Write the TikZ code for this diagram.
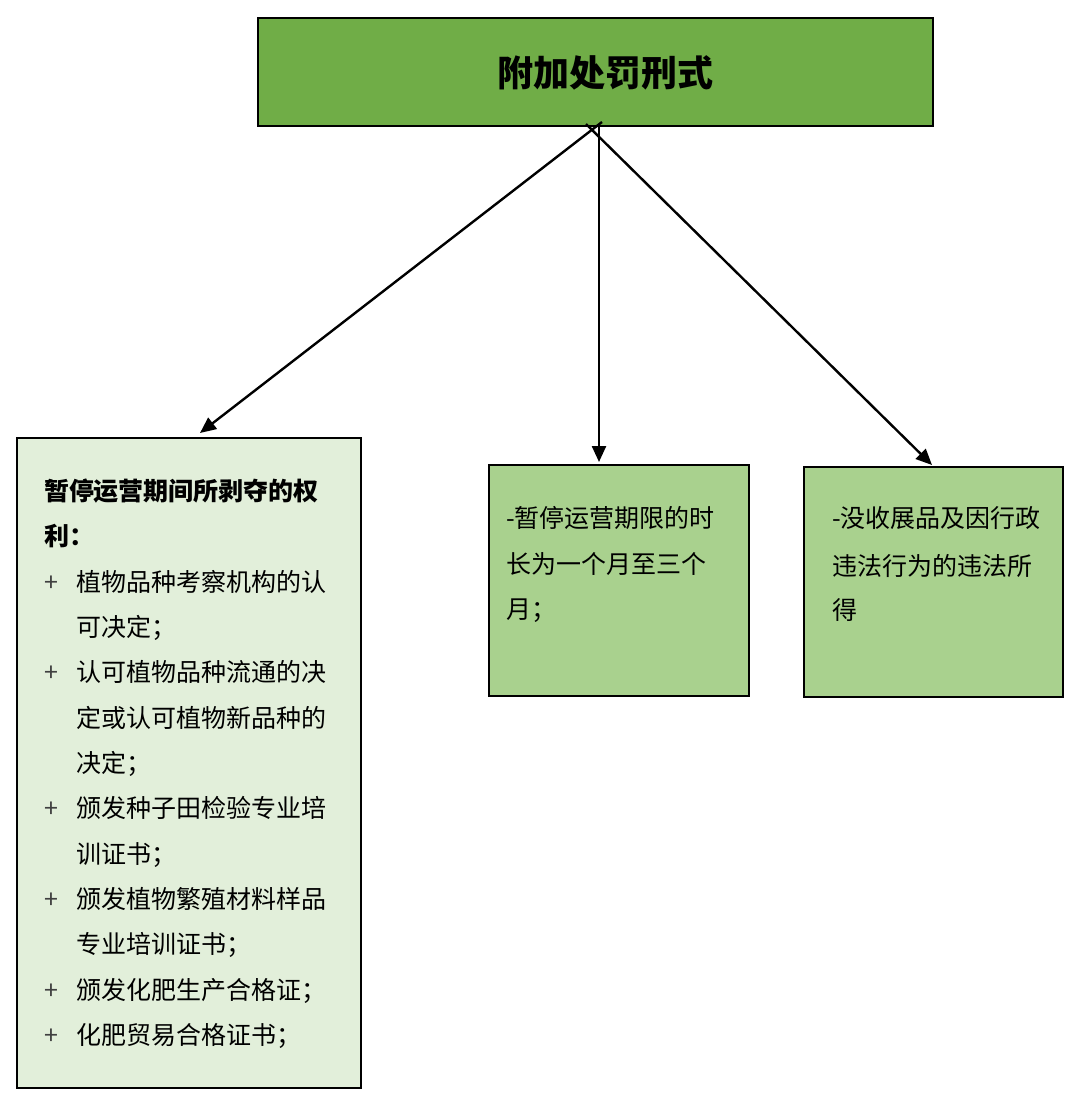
\documentclass[tikz,border=0pt]{standalone}
\usepackage{fontspec}
\setmainfont{Noto Sans CJK SC}
\usetikzlibrary{arrows.meta}
\definecolor{topgreen}{HTML}{70AD47}
\definecolor{midgreen}{HTML}{A9D18E}
\definecolor{palegreen}{HTML}{E2EFDA}
\begin{document}
\begin{tikzpicture}[x=0.5pt,y=-0.5pt,
  box/.style={draw=black,line width=1.1pt,inner sep=0pt,outer sep=0pt},
  arr/.style={line width=1.2pt,-{Triangle[length=8pt,width=7pt]}},
  txt/.style={anchor=base west,inner sep=0pt,outer sep=0pt,text=black,font=\fontsize{12.5}{15}\selectfont},
  btxt/.style={txt,font=\fontsize{12.5}{15}\selectfont\bfseries},
  plus/.style={txt,text=black!75}]
\useasboundingbox (0,0) rectangle (1080,1104);
\fill[white] (0,0) rectangle (1080,1104);

% boxes
\node[box,fill=topgreen,minimum width=337.5pt,minimum height=54pt] (top) at (595.5,72) {};
\node[anchor=base,inner sep=0pt,font=\fontsize{18}{20}\selectfont\bfseries] (title) at (605,86.5) {附加处罚刑式};
\node[box,fill=palegreen,minimum width=172pt,minimum height=325pt] (left) at (189,763) {};
\node[box,fill=midgreen,minimum width=130pt,minimum height=115.5pt] (mid) at (619,580.5) {};
\node[box,fill=midgreen,minimum width=129.5pt,minimum height=115pt] (right) at (933.5,582) {};

% connectors
\coordinate (s1) at (602,122);
\coordinate (e1) at (200,433);
\coordinate (s2) at (599,124);
\coordinate (e2) at (599,462);
\coordinate (s3) at (586,124);
\coordinate (e3) at (932,465);
\draw[arr] (s1) -- (e1);
\draw[arr] (s2) -- (e2);
\draw[arr] (s3) -- (e3);

% left box text
\node[btxt] (l1) at (44,500.5) {暂停运营期间所剥夺的权};
\node[btxt] (l2) at (44,545.8) {利：};
\node[plus] (p1) at (44,591.2) {+};
\node[txt] (l3) at (76.5,591.2) {植物品种考察机构的认};
\node[txt] (l4) at (76.5,636.5) {可决定；};
\node[plus] (p2) at (44,681.8) {+};
\node[txt] (l5) at (76.5,681.8) {认可植物品种流通的决};
\node[txt] (l6) at (76.5,727.2) {定或认可植物新品种的};
\node[txt] (l7) at (76.5,772.5) {决定；};
\node[plus] (p3) at (44,817.8) {+};
\node[txt] (l8) at (76.5,817.8) {颁发种子田检验专业培};
\node[txt] (l9) at (76.5,863.2) {训证书；};
\node[plus] (p4) at (44,908.5) {+};
\node[txt] (l10) at (76.5,908.5) {颁发植物繁殖材料样品};
\node[txt] (l11) at (76.5,953.8) {专业培训证书；};
\node[plus] (p5) at (44,999.2) {+};
\node[txt] (l12) at (76.5,999.2) {颁发化肥生产合格证；};
\node[plus] (p6) at (44,1044.5) {+};
\node[txt] (l13) at (76.5,1044.5) {化肥贸易合格证书；};

% middle box text
\node[txt] (m1) at (506,527.5) {-暂停运营期限的时};
\node[txt] (m2) at (506,573.5) {长为一个月至三个};
\node[txt] (m3) at (506,618.5) {月；};

% right box text
\node[txt] (r1) at (832,527.5) {-没收展品及因行政};
\node[txt] (r2) at (832,575) {违法行为的违法所};
\node[txt] (r3) at (832,619.5) {得};
\end{tikzpicture}
\end{document}
